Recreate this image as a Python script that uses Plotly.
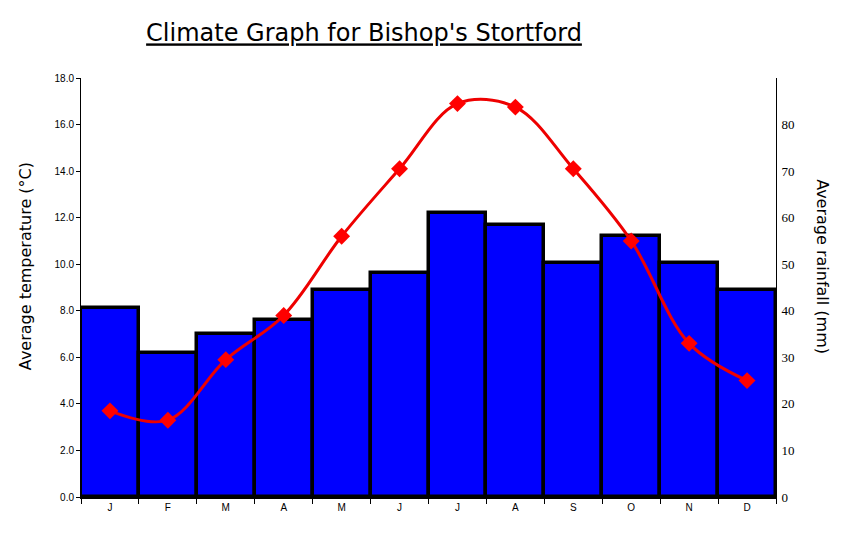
import plotly.graph_objects as go

months = ["J", "F", "M", "A", "M", "J", "J", "A", "S", "O", "N", "D"]
month_ids = list(range(12))
rainfall_mm = [40.6, 30.9, 35.0, 38.0, 44.5, 48.1, 61.0, 58.4, 50.3, 56.1, 50.3, 44.5]
temperature_c = [3.7, 3.3, 5.9, 7.8, 11.2, 14.1, 16.9, 16.75, 14.1, 11.0, 6.6, 5.0]
temp_ticks = [0, 2, 4, 6, 8, 10, 12, 14, 16, 18]
rain_ticks = [0, 10, 20, 30, 40, 50, 60, 70, 80]

fig = go.Figure()
fig.add_trace(go.Bar(
    x=month_ids, y=rainfall_mm, yaxis="y",
    marker=dict(color="#0000ff", line=dict(color="#000000", width=3.5)),
    hoverinfo="skip", showlegend=False,
))
fig.add_trace(go.Scatter(
    x=month_ids, y=temperature_c, yaxis="y2", mode="lines+markers",
    line=dict(color="#ee0000", width=3, shape="spline", smoothing=1),
    marker=dict(symbol="diamond", size=13, color="#ff0000"),
    showlegend=False,
))

fig.update_layout(
    width=844, height=536,
    margin=dict(l=73, r=76, t=70, b=47),
    paper_bgcolor="white", plot_bgcolor="white",
    bargap=0,
    title=dict(text="<u>Climate Graph for Bishop's Stortford</u>", x=356/844, xanchor="center",
               y=1 - 25/536, yanchor="middle",
               font=dict(family="DejaVu Sans", size=24, color="#000000")),
    xaxis=dict(
        type="category", tickmode="array", tickvals=month_ids, ticktext=months,
        tickson="boundaries",
        range=[-0.5, 11.5], showgrid=False, zeroline=False,
        showline=True, linecolor="#000000", linewidth=2,
        ticks="outside", ticklen=5, tickcolor="#000000",
        tickfont=dict(family="Liberation Sans", size=10, color="#000000"),
    ),
    yaxis=dict(
        side="right", range=[0, 90], tickvals=rain_ticks,
        showgrid=False, zeroline=False, showline=True, linecolor="#000000", linewidth=1,
        ticks="", tickfont=dict(family="Liberation Serif", size=13, color="#000000"),
        ticklabelstandoff=2,
    ),
    yaxis2=dict(
        side="left", overlaying="y", range=[0, 18], tickvals=temp_ticks, tickformat=".1f",
        showgrid=False, zeroline=False, showline=True, linecolor="#000000", linewidth=1,
        ticks="outside", ticklen=4, tickcolor="#000000",
        tickfont=dict(family="Liberation Sans", size=10, color="#000000"),
    ),
    annotations=[
        dict(text="Average temperature (°C)", x=(17 - 73) / 695, y=0.551, xref="paper", yref="paper",
             xanchor="center", yanchor="middle", textangle=-90, showarrow=False,
             font=dict(family="DejaVu Sans", size=16, color="#000000")),
        dict(text="Average rainfall (mm)", x=(815 - 73) / 695, y=0.551, xref="paper", yref="paper",
             xanchor="center", yanchor="middle", textangle=90, showarrow=False,
             font=dict(family="DejaVu Sans", size=16, color="#000000")),
    ],
)

fig.write_html("out.html")
